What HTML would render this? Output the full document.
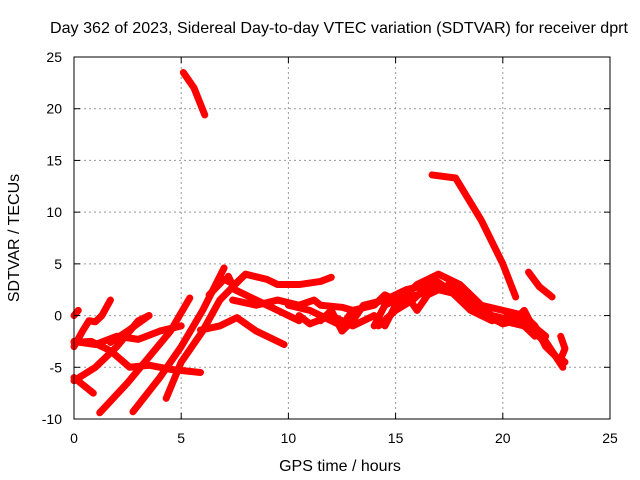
<!DOCTYPE html>
<html><head><meta charset="utf-8"><style>
body{margin:0;background:#fff}
svg{display:block;font-family:"Liberation Sans",sans-serif}
</style></head><body>
<svg id="chart" width="640" height="480" viewBox="0 0 640 480">
<rect width="640" height="480" fill="#fff"/>
<text x="339" y="33" font-size="16" text-anchor="middle" textLength="578" lengthAdjust="spacingAndGlyphs">Day 362 of 2023, Sidereal Day-to-day VTEC variation (SDTVAR) for receiver dprt</text>
<g id="grid"></g>
<g id="series"></g>
<rect x="74" y="57" width="536" height="362" fill="none" stroke="#000" stroke-width="1"/>
<g id="ticks"></g>
<text x="340" y="471" font-size="16" text-anchor="middle">GPS time / hours</text>
<text transform="translate(19,238) rotate(-90)" font-size="16" text-anchor="middle">SDTVAR / TECUs</text>
</svg>
<script>
const xTicks=[0,5,10,15,20,25];
const yTicks=[-10,-5,0,5,10,15,20,25];
const track1=[[0,-3],[0.4,-1.5],[0.7,-0.5],[1.0,-0.6],[1.3,0],[1.7,1.5]];
const track2=[[0,-6.3],[1,-5],[2,-3],[3,-0.5],[3.5,0]];
const track3=[[0,-2.6],[0.8,-2.5],[1.7,-3.4],[2.6,-5],[3.5,-4.8],[4.5,-5.2],[5.9,-5.5]];
const track4=[[0,-6],[0.9,-7.5]];
const track5=[[1.2,-9.4],[2.5,-6.5],[3.5,-4],[4.5,-1.5],[5.4,1.7]];
const track6=[[2.75,-9.3],[4,-6],[5,-3],[6,0.5],[7,4.6]];
const track7=[[4.3,-8],[5,-4.5],[6,-1.5],[6.8,1.5],[7.7,3.4]];
const track8=[[5.9,-1.4],[6.8,-1],[7.6,-0.2],[8.5,-1.5],[9.8,-2.8]];
const track9=[[1.7,-2.6],[2.5,-1.5],[3.5,0]];
const track10=[[0,-2.5],[1,-2.8],[2,-2],[3,-2.3],[4,-1.5],[5,-1]];
const track11=[[6.3,2],[7,3.5],[7.5,3],[8,4],[9,3.5],[9.5,3],[10.5,3],[11.5,3.3],[12,3.7]];
const track12=[[7.4,1.5],[8.5,1],[9.5,1.5],[10.5,1],[11.2,1.5],[11.5,1],[12.5,0.8],[13,0.5]];
const track13=[[7.2,3.8],[7.5,2.5],[8.5,1.5],[9.5,0.5],[10,0],[10.5,-0.5]];
const track14=[[10,1],[11,0.5],[12,-0.5],[12.5,-1],[13,0.5],[14,1],[14.5,2],[15,1.5],[16,2],[17,2.5],[18,2],[19,0],[20,-0.5],[21,-1],[22,-2.5],[22.8,-5]];
const track15=[[10.5,0],[11,-0.8],[12,0],[13,-1],[14,0],[14.5,-1],[15,1],[16,3],[17,4],[18,3],[19,1],[20,0.5],[21,0],[21.5,-1],[22,-3],[22.5,-4]];
const track16=[[14,-1],[14.5,1],[15.5,2],[16,0.5],[16.5,2],[17.5,3],[18.5,1.5],[19.5,0],[20.5,-0.5],[21,0.5],[21.5,-1.5],[22.3,-3.5]];
const track17=[[5.1,23.5],[5.6,22],[6.1,19.4]];
const track18=[[16.7,13.6],[17.8,13.3],[19,9.2],[20,5],[20.6,1.8]];
const track19=[[21.2,4.2],[21.7,2.8],[22.3,1.8]];
const track20=[[0,0],[0.2,0.5]];
const track21=[[22.7,-2],[22.9,-3.2],[22.7,-4.2],[22.9,-4.5]];
const track22=[[11.5,-0.5],[12,0.5],[12.5,-1.5],[13,-0.5],[13.5,1],[14.5,1.5],[15.5,2.5],[16.5,3],[17.5,2.5],[18.5,0.5],[19.5,-0.5],[20.5,0],[21.5,-2]];
const track23=[[14.2,-1],[15,0.5],[15.8,1.5],[16.8,3.5],[17.8,2],[18.8,0.5],[20,-0.8],[21,-0.3],[22,-2]];
const tracks=[track1,track2,track3,track4,track5,track6,track7,track8,track9,track10,track11,track12,track13,track14,track15,track16,track17,track18,track19,track20,track21,track22,track23];

const X=t=>74+t*536/25;
const Y=v=>419-(v+10)*362/35;
const NS="http://www.w3.org/2000/svg";
const grid=document.getElementById('grid'),ticks=document.getElementById('ticks'),series=document.getElementById('series');
function mk(tag,attrs,parent){const e=document.createElementNS(NS,tag);for(const k in attrs)e.setAttribute(k,attrs[k]);parent.appendChild(e);return e;}
xTicks.forEach(t=>{
  if(t>0&&t<25){const g=mk('line',{x1:X(t),x2:X(t),y1:57,y2:419,stroke:'#999','stroke-dasharray':'2,3'},grid);
  
  }
  mk('line',{x1:X(t),x2:X(t),y1:419,y2:413,stroke:'#000'},ticks);
  mk('line',{x1:X(t),x2:X(t),y1:57,y2:63,stroke:'#000'},ticks);
  const l=mk('text',{x:X(t),y:443,'font-size':14,'text-anchor':'middle'},ticks);l.textContent=t;
  
  
});
yTicks.forEach(v=>{
  if(v>-10&&v<25){const g=mk('line',{x1:74,x2:610,y1:Y(v),y2:Y(v),stroke:'#999','stroke-dasharray':'2,3'},grid);
  
  }
  mk('line',{x1:74,x2:80,y1:Y(v),y2:Y(v),stroke:'#000'},ticks);
  mk('line',{x1:610,x2:604,y1:Y(v),y2:Y(v),stroke:'#000'},ticks);
  const l=mk('text',{x:62,y:Y(v)+5,'font-size':14,'text-anchor':'end'},ticks);l.textContent=v;
  
  
});
tracks.forEach((tr,i)=>{
  const p=mk('polyline',{points:tr.map(d=>X(d[0])+','+Y(d[1])).join(' '),fill:'none',stroke:'#ff0000','stroke-width':7,'stroke-linejoin':'round','stroke-linecap':'round'},series);
  
  
});
</script>
</body></html>
